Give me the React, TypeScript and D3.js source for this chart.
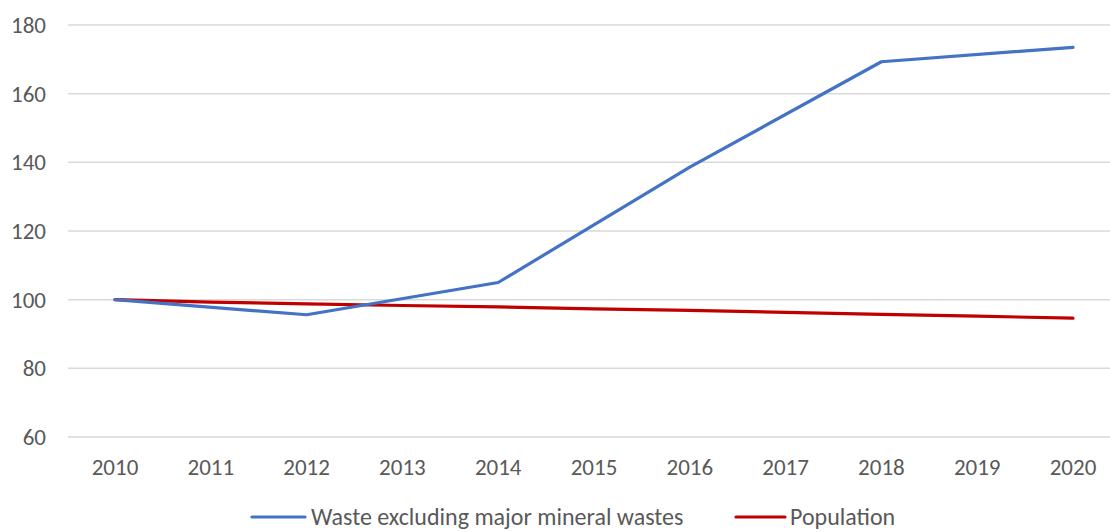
import React, { useMemo } from "react";
import * as d3 from "d3";

const WIDTH = 1110;
const HEIGHT = 532;
const FONT = "Carlito, 'Liberation Sans Narrow', 'Open Sans', sans-serif";

const years = ["2010", "2011", "2012", "2013", "2014", "2015", "2016", "2017", "2018", "2019", "2020"];
// waste is only reported every second year, gaps are joined
const waste: (number | null)[] = [100, null, 95.6, null, 105, null, 138.6, null, 169.3, null, 173.5];
const population = [100, 99.3, 98.8, 98.3, 97.9, 97.3, 96.9, 96.3, 95.7, 95.2, 94.6];
const yTicks = [60, 80, 100, 120, 140, 160, 180];

const seriesNames = ["Waste excluding major mineral wastes", "Population"];
const COLORS = ["#4472C4", "#C00000"];

const App = () => {
  const xScale = useMemo(() => d3.scalePoint<string>().domain(years).range([115, 1073]), []);
  const yScale = useMemo(() => d3.scaleLinear().domain([60, 180]).range([437, 25]), []);

  const line = d3
    .line<{ year: string; value: number }>()
    .x((d) => xScale(d.year) as number)
    .y((d) => yScale(d.value));

  const wastePts = years
    .map((year, i) => ({ year, value: waste[i] }))
    .filter((d) => d.value !== null) as { year: string; value: number }[];
  const popPts = years.map((year, i) => ({ year, value: population[i] }));

  return (
    <svg
      width={WIDTH}
      height={HEIGHT}
      style={{ position: "absolute", left: 0, top: 0, background: "#fff" }}
      fontFamily={FONT}
    >
      {yTicks.map((t) => (
        <g key={t}>
          <line x1={68} x2={WIDTH} y1={yScale(t)} y2={yScale(t)} stroke="#d9d9d9" strokeWidth={1.5} />
          <text x={46} y={yScale(t)} dy="0.35em" textAnchor="end" fontSize={23} fill="#595959">
            {t}
          </text>
        </g>
      ))}
      {years.map((y) => (
        <text key={y} x={xScale(y)} y={467} dy="0.35em" textAnchor="middle" fontSize={23} fill="#595959">
          {y}
        </text>
      ))}
      <path d={line(popPts) ?? ""} fill="none" stroke={COLORS[1]} strokeWidth={3.2} strokeLinecap="round" strokeLinejoin="round" />
      <path d={line(wastePts) ?? ""} fill="none" stroke={COLORS[0]} strokeWidth={3.2} strokeLinecap="round" strokeLinejoin="round" />

      {/* legend */}
      <g>
        <line x1={252} x2={305} y1={517} y2={517} stroke={COLORS[0]} strokeWidth={3.2} strokeLinecap="round" />
        <text x={311} y={517} dy="0.35em" fontSize={24} fill="#595959">{seriesNames[0]}</text>
        <line x1={736} x2={785} y1={517} y2={517} stroke={COLORS[1]} strokeWidth={3.2} strokeLinecap="round" />
        <text x={790} y={517} dy="0.35em" fontSize={24} fill="#595959">{seriesNames[1]}</text>
      </g>
    </svg>
  );
};

export default App;
